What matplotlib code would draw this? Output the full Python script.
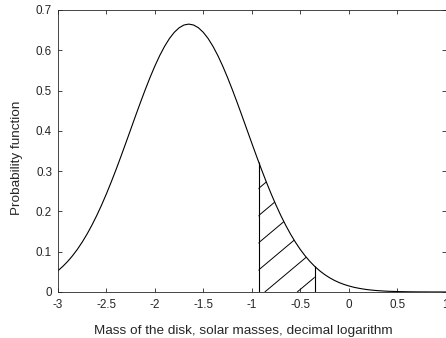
import numpy as np
import matplotlib
matplotlib.use("Agg")
import matplotlib.pyplot as plt
from matplotlib.collections import LineCollection
from matplotlib.transforms import IdentityTransform

# Decimal logarithm of disk mass (solar masses)
log_mass = [-3.00, -2.95, -2.90, -2.85, -2.80, -2.75, -2.70, -2.65, -2.60, -2.55,
            -2.50, -2.45, -2.40, -2.35, -2.30, -2.25, -2.20, -2.15, -2.10, -2.05,
            -2.00, -1.95, -1.90, -1.85, -1.80, -1.75, -1.70, -1.65, -1.60, -1.55,
            -1.50, -1.45, -1.40, -1.35, -1.30, -1.25, -1.20, -1.15, -1.10, -1.05,
            -1.00, -0.95, -0.90, -0.85, -0.80, -0.75, -0.70, -0.65, -0.60, -0.55,
            -0.50, -0.45, -0.40, -0.35, -0.30, -0.25, -0.20, -0.15, -0.10, -0.05,
            0.00, 0.05, 0.10, 0.15, 0.20, 0.25, 0.30, 0.35, 0.40, 0.45,
            0.50, 0.55, 0.60, 0.65, 0.70, 0.75, 0.80, 0.85, 0.90, 0.95, 1.00]

# Probability function at each mass
probability = [0.0529, 0.0636, 0.0759, 0.0900, 0.1059, 0.1239, 0.1438, 0.1659, 0.1899, 0.2159,
               0.2438, 0.2734, 0.3044, 0.3367, 0.3698, 0.4033, 0.4369, 0.4699, 0.5019, 0.5325,
               0.5610, 0.5869, 0.6097, 0.6291, 0.6445, 0.6558, 0.6627, 0.6650, 0.6627, 0.6558,
               0.6445, 0.6291, 0.6097, 0.5869, 0.5610, 0.5325, 0.5019, 0.4699, 0.4369, 0.4033,
               0.3698, 0.3367, 0.3044, 0.2734, 0.2438, 0.2159, 0.1899, 0.1659, 0.1438, 0.1239,
               0.1059, 0.0900, 0.0759, 0.0636, 0.0529, 0.0437, 0.0359, 0.0292, 0.0236, 0.0190,
               0.0152, 0.0120, 0.0095, 0.0074, 0.0057, 0.0044, 0.0034, 0.0026, 0.0019, 0.0015,
               0.0011, 0.0008, 0.0006, 0.0004, 0.0003, 0.0002, 0.0002, 0.0001, 0.0001, 0.0001,
               0.0000]

# Shaded mass interval
interval_low = -0.93
interval_high = -0.35

x_ticks = [-3, -2.5, -2, -1.5, -1, -0.5, 0, 0.5, 1]
x_tick_labels = ["-3", "-2.5", "-2", "-1.5", "-1", "-0.5", "0", "0.5", "1"]
y_ticks = [0, 0.1, 0.2, 0.3, 0.4, 0.5, 0.6, 0.7]
y_tick_labels = ["0", "0.1", "0.2", "0.3", "0.4", "0.5", "0.6", "0.7"]

x_label = "Mass of the disk, solar masses, decimal logarithm"
y_label = "Probability function"

plt.rcParams["font.family"] = ["Liberation Sans", "DejaVu Sans"]
axis_grey = "#262626"

W, H = 446, 338
AX_W, AX_H = 387.5, 282
fig = plt.figure(figsize=(W / 100, H / 100), dpi=100)
ax = fig.add_axes([58 / W, 1 - 292 / H, AX_W / W, AX_H / H])

x = np.array(log_mass)
p = np.array(probability)
ax.plot(x, p, color="black", lw=0.8)

ax.set_xlim(-3, 1)
ax.set_ylim(0, 0.7)
ax.set_xticks(x_ticks)
ax.set_xticklabels(x_tick_labels)
ax.set_yticks(y_ticks)
ax.set_yticklabels(y_tick_labels)
ax.tick_params(direction="in", top=True, right=True, length=2.8, width=0.6,
               colors=axis_grey, labelsize=8.4)
ax.tick_params(axis="x", pad=5)
ax.tick_params(axis="y", pad=4.3)
for s in ax.spines.values():
    s.set_color(axis_grey)
    s.set_linewidth(0.6)

ax.set_xlabel(x_label, fontsize=9.7, color=axis_grey)
ax.set_ylabel(y_label, fontsize=9.7, color=axis_grey)
ax.xaxis.set_label_coords((243.5 - 58) / AX_W, -(325 - 292) / AX_H)
ax.yaxis.set_label_coords((23 - 58) / AX_W, 0.477)

# Hatched interval under the curve
inside = (x > interval_low) & (x < interval_high)
xs = np.concatenate([[interval_low], x[inside], [interval_high]])
ys = np.interp(xs, x, p)
region = ax.fill_between(xs, 0, ys, facecolor="none", edgecolor="none")
ax.vlines([interval_low, interval_high], 0, [ys[0], ys[-1]], color="black", lw=0.8)

# Diagonal hatch lines drawn in pixel space, clipped to the interval
hatch_step = 32.4                 # horizontal spacing, pixels
hatch_angle = np.deg2rad(40.0)
hatch_anchor = -0.531             # a hatch line meets the baseline here
x0_px, y0_px = ax.transData.transform((hatch_anchor, 0))
left_px = ax.transData.transform((interval_low, 0))[0]
right_px = ax.transData.transform((interval_high, 0))[0]
reach = 200.0
segs = []
b = x0_px - hatch_step * np.ceil((x0_px - left_px + reach) / hatch_step)
while b <= right_px:
    segs.append([(b, y0_px), (b + reach, y0_px + reach * np.tan(hatch_angle))])
    b += hatch_step
hatch = LineCollection(segs, colors="black", linewidths=0.7,
                       transform=IdentityTransform())
ax.add_collection(hatch, autolim=False)
hatch.set_clip_path(region.get_paths()[0], region.get_transform())

fig.savefig("out.png", dpi=100)
